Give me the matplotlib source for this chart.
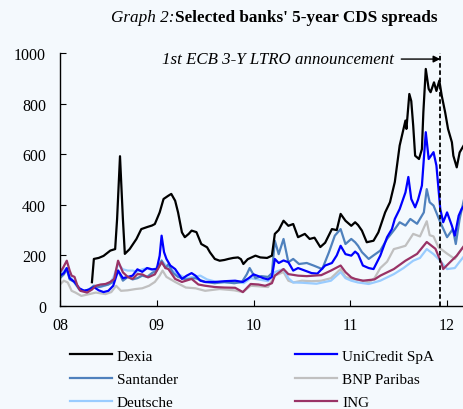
import matplotlib
matplotlib.use("Agg")
import matplotlib.pyplot as plt

plt.rcParams['font.family'] = ['Liberation Serif', 'DejaVu Serif']

# --- data (year fraction, bp) ---
dexia_t = [2008.33, 2008.35, 2008.40, 2008.45, 2008.52, 2008.57, 2008.59, 2008.62, 2008.65,
           2008.67, 2008.72, 2008.79, 2008.84, 2008.90, 2008.95, 2008.98, 2009.03,
           2009.07, 2009.12, 2009.15, 2009.19, 2009.22, 2009.26, 2009.29, 2009.33, 2009.36,
           2009.41, 2009.46, 2009.52, 2009.55, 2009.60, 2009.65, 2009.70, 2009.74, 2009.79, 2009.84,
           2009.87, 2009.895, 2009.94, 2010.02, 2010.07, 2010.14, 2010.19, 2010.22, 2010.26, 2010.31,
           2010.36, 2010.41, 2010.46, 2010.53, 2010.58, 2010.63, 2010.69, 2010.74, 2010.81, 2010.86,
           2010.90, 2010.95, 2011.01, 2011.05, 2011.08, 2011.12, 2011.17, 2011.24, 2011.29, 2011.36,
           2011.41, 2011.46, 2011.51, 2011.57, 2011.58, 2011.61, 2011.63, 2011.65, 2011.67, 2011.71,
           2011.74, 2011.755, 2011.78, 2011.81, 2011.83, 2011.865, 2011.89, 2011.92, 2011.945, 2011.98,
           2012.01, 2012.05, 2012.065, 2012.10, 2012.13, 2012.18]
dexia_v = [94, 186, 190, 198, 219, 225, 344, 592, 344,
           206, 225, 265, 304, 312, 318, 324, 370,
           423, 436, 443, 416, 370, 291, 272, 285, 298,
           292, 245, 232, 212, 186, 179, 182, 186, 190, 192,
           185, 166, 185, 199, 192, 190, 199, 285, 300, 337,
           317, 324, 272, 285, 265, 270, 233, 250, 304, 300,
           364, 337, 317, 331, 320, 298, 252, 258, 291, 370,
           410, 490, 634, 733, 700, 838, 810, 713, 594, 581,
           620, 766, 937, 858, 845, 884, 850, 891, 831, 766,
           700, 647, 594, 548, 607, 640]

unicredit_t = [2008.00, 2008.04, 2008.07, 2008.10, 2008.15, 2008.20, 2008.25, 2008.30, 2008.35, 2008.40,
               2008.45, 2008.50, 2008.55, 2008.60, 2008.65, 2008.70, 2008.75, 2008.80, 2008.85, 2008.90,
               2008.95, 2009.00, 2009.03, 2009.05, 2009.075, 2009.10, 2009.14, 2009.19, 2009.26, 2009.31,
               2009.36, 2009.40, 2009.45, 2009.50, 2009.60, 2009.70, 2009.81, 2009.89, 2009.95, 2010.00,
               2010.05, 2010.10, 2010.15, 2010.19, 2010.22, 2010.26, 2010.31, 2010.36, 2010.41, 2010.46,
               2010.53, 2010.60, 2010.66, 2010.74, 2010.81, 2010.86, 2010.90, 2010.95, 2011.01, 2011.05,
               2011.08, 2011.13, 2011.19, 2011.24, 2011.31, 2011.38, 2011.43, 2011.46, 2011.51, 2011.57,
               2011.60, 2011.63, 2011.67, 2011.70, 2011.74, 2011.78, 2011.81, 2011.86, 2011.89, 2011.93,
               2011.96, 2012.00, 2012.05, 2012.08, 2012.12, 2012.15, 2012.18]
unicredit_v = [120, 130, 150, 110, 95, 70, 60, 65, 75, 62,
               55, 60, 80, 140, 110, 115, 120, 145, 135, 150,
               145, 146, 199, 278, 213, 186, 160, 146, 107, 120,
               130, 120, 100, 95, 95, 98, 100, 95, 110, 125,
               118, 110, 105, 115, 186, 170, 180, 173, 140, 150,
               140, 130, 128, 160, 170, 200, 238, 205, 199, 215,
               205, 160, 150, 146, 199, 272, 304, 344, 383, 449,
               510, 423, 390, 420, 476, 687, 581, 608, 555, 383,
               331, 370, 317, 278, 357, 383, 400]

santander_t = [2008.00, 2008.04, 2008.07, 2008.10, 2008.15, 2008.20, 2008.25, 2008.30, 2008.35, 2008.40,
               2008.45, 2008.50, 2008.55, 2008.60, 2008.65, 2008.70, 2008.75, 2008.80, 2008.85, 2008.90,
               2008.95, 2009.00, 2009.05, 2009.09, 2009.12, 2009.17, 2009.22, 2009.30, 2009.40, 2009.50,
               2009.60, 2009.70, 2009.80, 2009.88, 2009.93, 2009.96, 2010.02, 2010.08, 2010.15, 2010.19,
               2010.22, 2010.26, 2010.31, 2010.36, 2010.41, 2010.47, 2010.55, 2010.62, 2010.71, 2010.78,
               2010.84, 2010.90, 2010.95, 2011.01, 2011.05, 2011.08, 2011.12, 2011.19, 2011.24, 2011.31,
               2011.38, 2011.46, 2011.51, 2011.57, 2011.62, 2011.69, 2011.76, 2011.79, 2011.82, 2011.86,
               2011.93, 2012.00, 2012.06, 2012.09, 2012.13, 2012.18]
santander_v = [110, 125, 145, 105, 95, 65, 60, 65, 80, 75,
               80, 85, 95, 140, 100, 115, 105, 110, 120, 115,
               130, 140, 180, 150, 165, 130, 115, 105, 110, 95,
               90, 95, 90, 95, 125, 150, 110, 118, 115, 130,
               258, 205, 265, 173, 186, 166, 170, 160, 146, 213,
               278, 304, 245, 265, 252, 238, 213, 186, 200, 219,
               265, 304, 331, 318, 344, 325, 370, 462, 410, 397,
               331, 272, 304, 245, 344, 430]

bnp_t = [2008.00, 2008.04, 2008.08, 2008.12, 2008.16, 2008.22, 2008.28, 2008.37, 2008.47, 2008.53,
         2008.58, 2008.63, 2008.70, 2008.78, 2008.85, 2008.92, 2008.98, 2009.03, 2009.06, 2009.10,
         2009.19, 2009.30, 2009.40, 2009.50, 2009.65, 2009.80, 2009.89, 2009.97, 2010.05, 2010.15,
         2010.22, 2010.31, 2010.36, 2010.41, 2010.50, 2010.60, 2010.70, 2010.80, 2010.90, 2010.95,
         2011.01, 2011.13, 2011.19, 2011.25, 2011.31, 2011.38, 2011.45, 2011.50, 2011.57, 2011.65,
         2011.72, 2011.79, 2011.82, 2011.86, 2011.91, 2012.00, 2012.08, 2012.13, 2012.18]
bnp_v = [85, 100, 93, 60, 53, 40, 45, 53, 47, 55,
         80, 60, 62, 67, 70, 80, 95, 120, 140, 115,
         95, 73, 70, 60, 67, 62, 55, 80, 78, 75,
         120, 134, 100, 93, 100, 98, 100, 110, 146, 115,
         107, 100, 93, 110, 150, 175, 225, 230, 238, 285,
         275, 335, 280, 275, 233, 207, 186, 215, 240]

deutsche_t = [2008.00, 2008.04, 2008.07, 2008.10, 2008.15, 2008.20, 2008.28, 2008.35, 2008.42, 2008.50,
              2008.55, 2008.60, 2008.65, 2008.70, 2008.75, 2008.80, 2008.85, 2008.90, 2008.96, 2009.02,
              2009.06, 2009.12, 2009.20, 2009.30, 2009.38, 2009.45, 2009.52, 2009.62, 2009.72, 2009.82,
              2009.90, 2009.97, 2010.05, 2010.15, 2010.22, 2010.31, 2010.36, 2010.41, 2010.50, 2010.65,
              2010.80, 2010.90, 2010.95, 2011.01, 2011.08, 2011.19, 2011.31, 2011.45, 2011.55, 2011.65,
              2011.72, 2011.79, 2011.86, 2011.93, 2012.00, 2012.08, 2012.13, 2012.18]
deutsche_v = [120, 140, 150, 120, 90, 65, 60, 80, 75, 85,
              110, 166, 145, 140, 140, 135, 145, 150, 140, 160,
              175, 150, 130, 110, 115, 120, 105, 95, 92, 95,
              90, 110, 105, 98, 134, 146, 110, 93, 92, 88,
              100, 134, 110, 100, 93, 87, 100, 126, 150, 179,
              190, 225, 205, 179, 146, 150, 175, 199]

ing_t = [2008.00, 2008.03, 2008.07, 2008.10, 2008.12, 2008.15, 2008.18, 2008.21, 2008.28, 2008.33,
         2008.37, 2008.42, 2008.47, 2008.52, 2008.56, 2008.60, 2008.65, 2008.70, 2008.75, 2008.80,
         2008.85, 2008.91, 2008.98, 2009.05, 2009.09, 2009.12, 2009.19, 2009.26, 2009.36, 2009.43,
         2009.50, 2009.60, 2009.70, 2009.81, 2009.89, 2009.97, 2010.05, 2010.12, 2010.19, 2010.22,
         2010.31, 2010.36, 2010.46, 2010.55, 2010.70, 2010.80, 2010.90, 2010.95, 2011.01, 2011.05,
         2011.13, 2011.25, 2011.31, 2011.45, 2011.57, 2011.69, 2011.79, 2011.88, 2011.945, 2011.96,
         2012.03, 2012.10, 2012.18]
ing_v = [133, 150, 179, 140, 120, 115, 80, 60, 53, 65,
         80, 85, 87, 95, 107, 179, 133, 115, 107, 126,
         125, 113, 125, 173, 150, 146, 107, 95, 107, 85,
         80, 75, 73, 72, 55, 87, 85, 80, 90, 120,
         146, 126, 120, 118, 122, 140, 160, 134, 113, 107,
         100, 105, 120, 146, 179, 206, 253, 226, 166, 146,
         173, 199, 240]

ltro_date = 2011.93
x_ticks = [2008, 2009, 2010, 2011, 2012]
x_labels = ['08', '09', '10', '11', '12']
y_ticks = [0, 200, 400, 600, 800, 1000]

bg = '#F4F9FD'
fig = plt.figure(figsize=(4.64, 4.10), dpi=100, facecolor=bg)
ax = fig.add_axes([60 / 464, 1 - 307 / 410, 404 / 464, 253 / 410])
ax.set_facecolor(bg)

lw = 1.6
h_bnp, = ax.plot(bnp_t, bnp_v, color='#C0C0C0', lw=lw, label='BNP Paribas')
h_deu, = ax.plot(deutsche_t, deutsche_v, color='#99CCFF', lw=lw, label='Deutsche')
h_san, = ax.plot(santander_t, santander_v, color='#4F81BD', lw=lw, label='Santander')
h_uni, = ax.plot(unicredit_t, unicredit_v, color='#0000FF', lw=lw, label='UniCredit SpA')
h_ing, = ax.plot(ing_t, ing_v, color='#993366', lw=lw, label='ING')
h_dex, = ax.plot(dexia_t, dexia_v, color='black', lw=lw, label='Dexia')

# LTRO announcement marker
ax.plot([ltro_date, ltro_date], [0, 1000], color='black', lw=1.3, ls=(0, (2.5, 1.5)))
ax.annotate('1st ECB 3-Y LTRO announcement', xy=(ltro_date, 976), xytext=(2011.455, 976),
            ha='right', va='center', fontsize=12.2, style='italic',
            arrowprops=dict(arrowstyle='-|>', color='black', lw=1.0, shrinkA=3, shrinkB=0,
                            mutation_scale=10))

ax.set_xlim(2008, 2012.175)
ax.set_ylim(0, 1000)
ax.set_xticks(x_ticks)
ax.set_xticklabels(x_labels)
ax.set_yticks(y_ticks)
ax.tick_params(axis='both', direction='in', labelsize=11.5, color='black')
ax.tick_params(axis='y', length=4, pad=10)
ax.tick_params(axis='x', length=4, pad=8)
for side in ['top', 'right']:
    ax.spines[side].set_visible(False)
for side in ['left', 'bottom']:
    ax.spines[side].set_linewidth(1.0)

fig.legend(handles=[h_dex, h_san, h_deu, h_uni, h_bnp, h_ing], ncol=2,
           loc='upper left', bbox_to_anchor=(70 / 464, 1 - 350 / 410),
           frameon=False, fontsize=11, handlelength=2.75, handletextpad=0.3,
           columnspacing=7.7, labelspacing=0.62, borderaxespad=0, borderpad=0)

fig.text(175 / 464, 1 - 18 / 410, 'Graph 2:', ha='right', va='center', fontsize=12.3, style='italic')
fig.text(175 / 464, 1 - 18 / 410, "Selected banks' 5-year CDS spreads", ha='left', va='center',
         fontsize=12.3, fontweight='bold')

fig.savefig('out.png', dpi=100, facecolor=bg)
